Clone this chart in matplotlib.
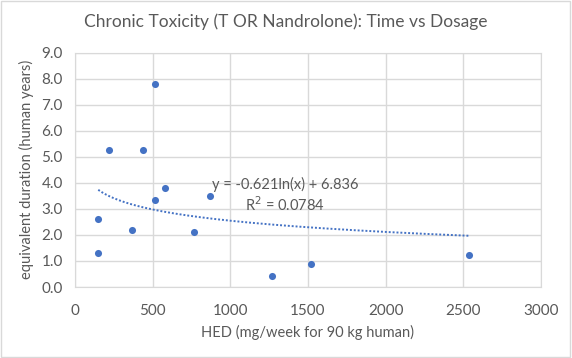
import numpy as np
import matplotlib.pyplot as plt
from matplotlib.patches import Rectangle

plt.rcParams['font.family'] = ['Lato', 'DejaVu Sans']

# dose (HED, mg/week) and equivalent duration (human years)
hed = [148, 148, 219, 367, 438, 516, 516, 580, 767, 870, 1270, 1522, 2540]
years = [1.29, 2.60, 5.25, 2.18, 5.25, 7.79, 3.33, 3.79, 2.10, 3.48, 0.41, 0.87, 1.22]

# log trendline reported on the chart
slope = -0.621
intercept = 6.836
r2 = 0.0784

blue = '#4472C4'
grey = '#595959'

fig = plt.figure(figsize=(5.72, 3.58), dpi=100)
ax = fig.add_axes([0.1316, 0.1983, 0.8137, 0.6545])

ax.scatter(hed, years, s=26, color=blue, zorder=3, linewidths=0)

# trendline from min to max x
xt = np.linspace(min(hed), max(hed), 200)
ax.plot(xt, slope * np.log(xt) + intercept, color=blue, lw=1.4,
        linestyle=(0, (1, 1)), zorder=2)

ax.text(1352, 3.95, 'y = -0.621ln(x) + 6.836', ha='center', va='center',
        fontsize=10.5, color=grey)
ax.text(1352, 3.18, 'R$^2$ = 0.0784', ha='center', va='center',
        fontsize=10.5, color=grey)

ax.set_xlim(0, 3000)
ax.set_ylim(0, 9)
ax.set_xticks(np.arange(0, 3001, 500))
ax.set_yticks(np.arange(0, 9.1, 1))
ax.set_yticklabels([f'{v:.1f}' for v in np.arange(0, 9.1, 1)])
ax.grid(True, color='#d9d9d9', lw=1)
ax.set_axisbelow(True)
for s in ax.spines.values():
    s.set_color('#d9d9d9')
ax.tick_params(length=0, labelsize=11, labelcolor=grey)
ax.tick_params(axis='x', pad=12)
ax.tick_params(axis='y', pad=9)

ax.set_xlabel('HED (mg/week for 90 kg human)', fontsize=10.5, color=grey, labelpad=5)
ax.set_ylabel('equivalent duration (human years)', fontsize=10.5, color=grey)
ax.yaxis.set_label_coords(-0.088, 0.5)
fig.text(0.5, 1 - 22 / 358, 'Chronic Toxicity (T OR Nandrolone): Time vs Dosage',
         fontsize=12.5, color=grey, ha='center', va='center')

fig.patches.append(Rectangle((0.002, 0.003), 0.995, 0.994, transform=fig.transFigure,
                             fill=False, edgecolor='#d9d9d9', lw=1))

fig.savefig('out.png', dpi=100)
